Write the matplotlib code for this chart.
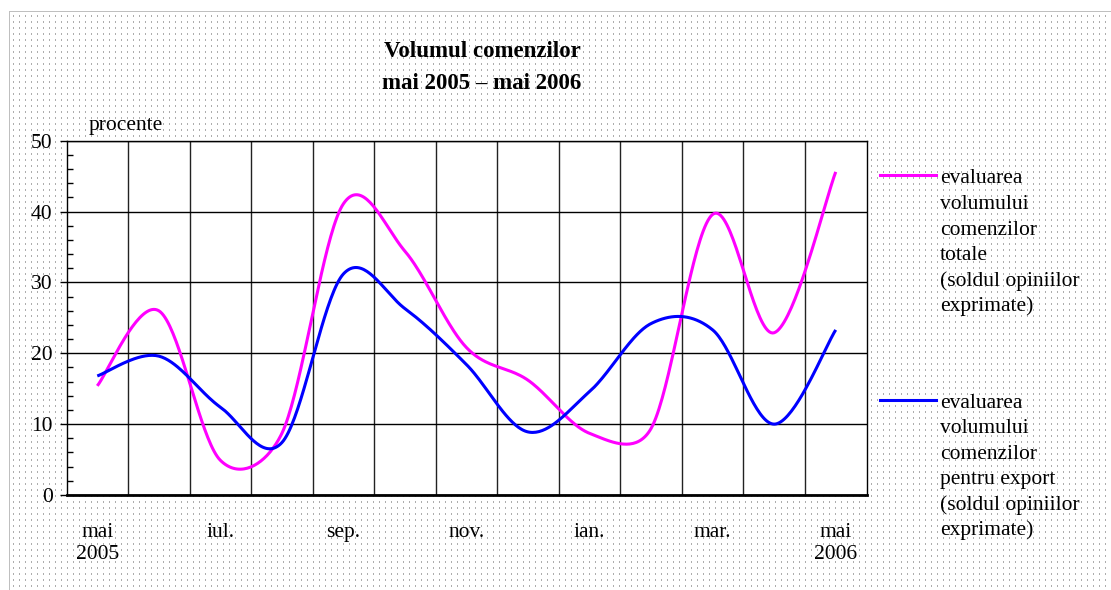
import numpy as np
import matplotlib
matplotlib.use("Agg")
import matplotlib.pyplot as plt
from matplotlib.lines import Line2D
from matplotlib.ticker import MultipleLocator, FixedLocator

# data (procente), mai 2005 - mai 2006
months = ["mai", "iun.", "iul.", "aug.", "sep.", "oct.", "nov.", "dec.",
          "ian.", "feb.", "mar.", "apr.", "mai"]
comenzi_totale = [15.4, 26.0, 4.9, 8.7, 41.1, 34.4, 20.8, 16.2, 8.7, 9.4, 39.6, 22.9, 45.6]
comenzi_export = [16.8, 19.6, 12.4, 7.4, 31.2, 26.3, 18.4, 8.9, 14.6, 24.2, 23.3, 10.0, 23.3]
tick_idx = [0, 2, 4, 6, 8, 10, 12]
tick_txt = ["mai\n2005", "iul.", "sep.", "nov.", "ian.", "mar.", "mai\n2006"]
legend_totale = ["evaluarea", "volumului", "comenzilor", "totale",
                 "(soldul opiniilor", "exprimate)"]
legend_export = ["evaluarea", "volumului", "comenzilor", "pentru export",
                 "(soldul opiniilor", "exprimate)"]

PINK = "#FF00FF"
BLUE = "#0000FF"
W, H = 1111, 590
PX_X = 800 / 13      # pixels per category
PX_Y = 354.3 / 50    # pixels per percent

plt.rcParams["font.family"] = ["Liberation Serif", "DejaVu Serif"]


def smooth(xs, ys, n=40):
    # excel-like smoothed line: bezier with 1/6 tangents,
    # control arm at most half of the segment (pixel space)
    p = np.column_stack([np.asarray(xs, float) * PX_X, np.asarray(ys, float) * PX_Y])
    out = []
    for i in range(len(p) - 1):
        p0 = p[i - 1] if i > 0 else p[i]
        p1, p2 = p[i], p[i + 1]
        p3 = p[i + 2] if i + 2 < len(p) else p[i + 1]
        seg_len = np.linalg.norm(p2 - p1)
        a1 = (p2 - p0) / 6.0
        a2 = (p3 - p1) / 6.0
        for a in (a1, a2):
            la = np.linalg.norm(a)
            if la > seg_len / 2:
                a *= (seg_len / 2) / la
        c1 = p1 + a1
        c2 = p2 - a2
        t = np.linspace(0, 1, n)[:, None]
        seg = ((1 - t) ** 3) * p1 + 3 * ((1 - t) ** 2) * t * c1 + 3 * (1 - t) * t ** 2 * c2 + t ** 3 * p2
        out.append(seg if i == 0 else seg[1:])
    out = np.vstack(out)
    return out[:, 0] / PX_X, out[:, 1] / PX_Y


fig = plt.figure(figsize=(W / 100, H / 100), dpi=100)
fig.patch.set_facecolor("white")

# dotted background
bg = np.ones((H, W, 3))
yy, xx = np.mgrid[0:H, 0:W]
mask = (xx >= 10) & (yy >= 12) & ((xx - 10) % 6 == 3) & (((yy - 12) % 6 == 3) | ((yy - 12) % 6 == 4))
bg[mask] = 0.68
bg[11, 9:] = 0.75
bg[11:, 9] = 0.75
fig.figimage(bg, xo=0, yo=0, origin="upper", zorder=-5)

ax = fig.add_axes([66.5 / W, 1 - 495 / H, 800 / W, 354.3 / H])
ax.set_facecolor("white")

x = np.arange(len(months))
sx, sy = smooth(x, comenzi_totale)
ax.plot(sx, sy, color=PINK, lw=2.2, zorder=3, solid_capstyle="butt")
sx, sy = smooth(x, comenzi_export)
ax.plot(sx, sy, color=BLUE, lw=2.2, zorder=4, solid_capstyle="butt")

ax.set_xlim(-0.5, len(months) - 0.5)
ax.set_ylim(0, 50)

ax.set_yticks(range(0, 51, 10))
ax.yaxis.set_minor_locator(MultipleLocator(2))
ax.tick_params(axis="y", which="major", direction="out", length=5, width=1,
               labelsize=15.5, pad=5, colors="black")
ax.tick_params(axis="y", which="minor", direction="in", length=4, width=1)
ax.grid(axis="y", which="major", color="black", lw=1)

ax.xaxis.set_minor_locator(FixedLocator(np.arange(0.5, len(months) - 1, 1)))
ax.set_xticks(tick_idx)
ax.set_xticklabels(tick_txt, fontsize=15.5, linespacing=1.2)
ax.tick_params(axis="x", which="both", length=0, pad=20)
ax.grid(axis="x", which="minor", color="#222222", lw=1)
ax.set_axisbelow(True)

for s in ax.spines.values():
    s.set_color("black")
    s.set_linewidth(1)
ax.spines["bottom"].set_linewidth(2)

# titles
fig.text(482 / W, 1 - 56.7 / H, "Volumul comenzilor", ha="center", va="baseline",
         fontsize=16.5, fontweight="bold")
fig.text(482 / W, 1 - 89.3 / H, "mai 2005 \u2013 mai 2006", ha="center", va="baseline",
         fontsize=16.5, fontweight="bold")
fig.text(89 / W, 1 - 130 / H, "procente", ha="left", va="baseline", fontsize=15.5)

# legend on the right
def legend_block(color, y_line, y_base, lines):
    fig.add_artist(Line2D([880 / W, 936 / W], [1 - y_line / H, 1 - y_line / H],
                          color=color, lw=2.2, transform=fig.transFigure))
    for k, t in enumerate(lines):
        fig.text(940 / W, 1 - (y_base + k * 25.6) / H, t, ha="left", va="baseline",
                 fontsize=15.5)


legend_block(PINK, 175, 183.5, legend_totale)
legend_block(BLUE, 399.5, 407.5, legend_export)

fig.savefig("out.png", dpi=100)
